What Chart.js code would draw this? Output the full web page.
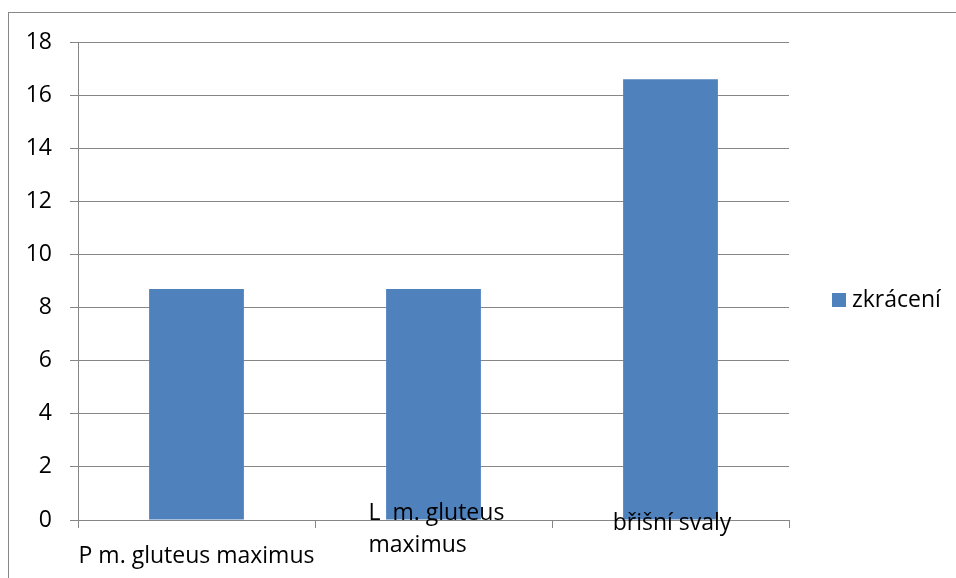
<!DOCTYPE html>
<html>
<head>
<meta charset="utf-8">
<script src="https://cdn.jsdelivr.net/npm/chart.js@4/dist/chart.umd.min.js"></script>
<style>
  html, body { margin: 0; padding: 0; background: #fff; }
  #wrap { position: relative; width: 956px; height: 578px; overflow: hidden; }
  #frame { position: absolute; left: 8px; top: 12px; width: 1000px; height: 700px;
           border-left: 1px solid #878787; border-top: 1px solid #878787; }
  canvas { position: absolute; left: 0; top: 0; }
</style>
</head>
<body>
<div id="wrap">
  <div id="frame"></div>
  <canvas id="chart" width="956" height="578"></canvas>
</div>
<script>
// Category labels (inner arrays are wrapped lines)
const categories = [
  ['P m. gluteus maximus'],
  ['L  m. gluteus', 'maximus'],
  ['břišní svaly']
];
const seriesName = 'zkrácení';
const seriesValues = [8.7, 8.7, 16.6];
const yMin = 0;
const yMax = 18;
const yStep = 2;

const barColor = '#4F81BD';
const axisColor = '#868686';

// Placement of each category label relative to its category centre and the axis line
const labelPlacement = [
  { align: 'center', dx: 0,   dy: 43 },
  { align: 'left',   dx: -65, dy: 0 },
  { align: 'center', dx: 1.5, dy: 10 }
];
const labelLineHeight = 32;

Chart.defaults.font.family = "'Open Sans', sans-serif";
Chart.defaults.font.size = 23;
Chart.defaults.color = '#000';

const categoryLabels = {
  id: 'categoryLabels',
  afterDraw(chart) {
    const ctx = chart.ctx;
    const xs = chart.scales.x;
    const base = chart.chartArea.bottom;
    ctx.save();
    ctx.fillStyle = '#000';
    ctx.font = "23px 'Open Sans', sans-serif";
    ctx.textBaseline = 'alphabetic';
    categories.forEach((lines, i) => {
      const p = labelPlacement[i];
      const cx = xs.getPixelForValue(i);
      ctx.textAlign = p.align;
      lines.forEach((t, j) => ctx.fillText(t, cx + p.dx, base + p.dy + j * labelLineHeight));
    });
    ctx.restore();
  }
};

const sideLegend = {
  id: 'sideLegend',
  afterDraw(chart) {
    const ctx = chart.ctx;
    const ds = chart.data.datasets[0];
    const lx = chart.chartArea.right + 43;
    const ly = chart.height / 2 + 11;
    ctx.save();
    ctx.fillStyle = ds.backgroundColor;
    ctx.fillRect(lx, ly - 7, 14, 14);
    ctx.fillStyle = '#000';
    ctx.font = "23px 'Open Sans', sans-serif";
    ctx.textAlign = 'left';
    ctx.textBaseline = 'alphabetic';
    ctx.fillText(ds.label, lx + 20, ly + 7);
    ctx.restore();
  }
};

new Chart(document.getElementById('chart'), {
  type: 'bar',
  data: {
    labels: categories,
    datasets: [{
      label: seriesName,
      data: seriesValues,
      backgroundColor: barColor,
      borderWidth: 0,
      barPercentage: 0.4,
      categoryPercentage: 1.0
    }]
  },
  options: {
    responsive: false,
    animation: false,
    layout: { padding: { left: 0, top: 42, right: 167, bottom: 50 } },
    plugins: {
      legend: { display: false },
      tooltip: { enabled: false }
    },
    scales: {
      x: {
        grid: { display: true, offset: true, drawOnChartArea: false, drawTicks: true,
                tickLength: 8, color: axisColor, lineWidth: 1 },
        border: { display: true, color: axisColor, width: 1 },
        ticks: { display: false },
        afterFit(s) { s.height = 8; }
      },
      y: {
        min: yMin,
        max: yMax,
        ticks: { stepSize: yStep, padding: 18, color: '#000' },
        grid: { color: axisColor, lineWidth: 1, drawTicks: true, tickLength: 8 },
        border: { display: true, color: axisColor, width: 1 },
        afterFit(s) { s.width = 78; }
      }
    }
  },
  plugins: [categoryLabels, sideLegend]
});
</script>
</body>
</html>
